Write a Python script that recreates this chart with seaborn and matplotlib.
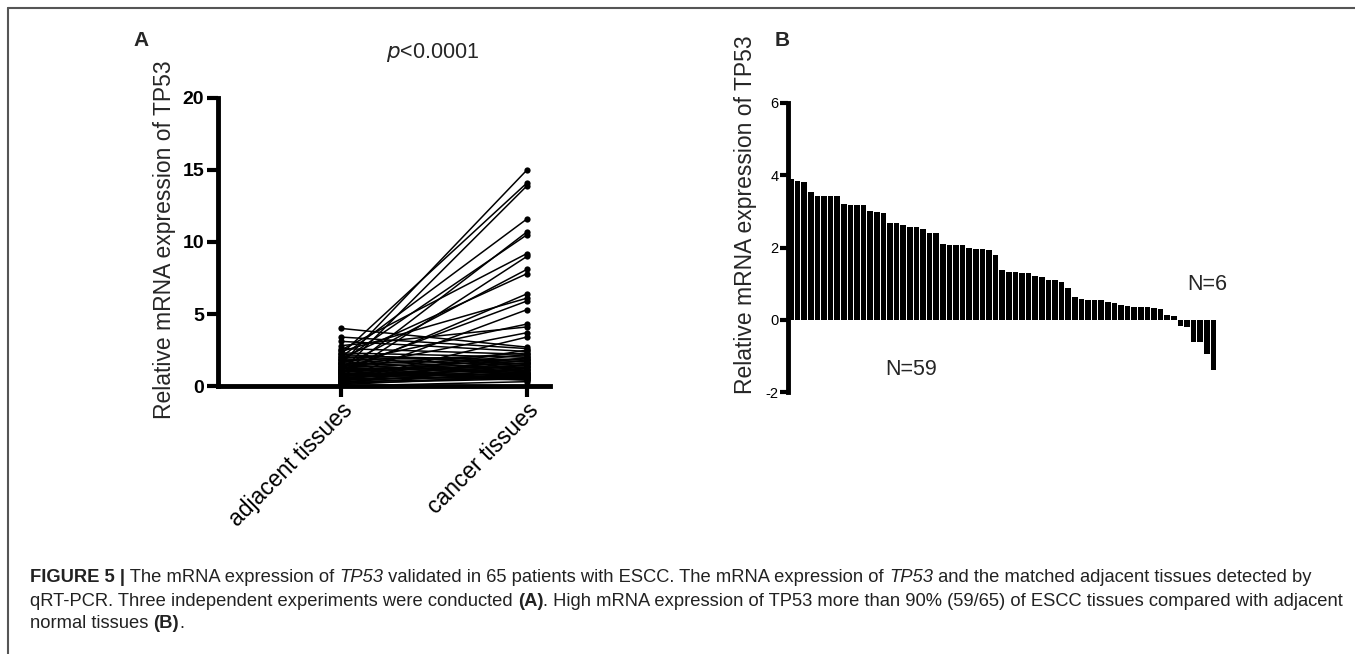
import numpy as np
import pandas as pd
import matplotlib
matplotlib.use("Agg")
import matplotlib.pyplot as plt
from matplotlib.lines import Line2D
import seaborn as sns

# ---------------- data ----------------
tissues = ["adjacent tissues", "cancer tissues"]

adjacent_values = [1.5, 2.2, 1.0, 2.0, 0.8, 1.7, 2.5, 0.6, 1.3, 1.9, 0.9, 2.4, 1.1, 0.5, 1.6, 2.8, 1.2, 0.3,
                   4.0, 3.4, 0.4, 3.1, 1.4, 0.7, 2.6, 1.8, 0.2, 2.3, 1.5, 0.95, 2.1, 0.45, 1.3, 2.0, 0.65,
                   1.1, 0.35, 2.2, 1.0, 1.9, 0.55, 1.2, 1.8, 0.25, 1.6, 0.8, 1.4, 0.15, 1.7, 0.6, 1.3, 0.75,
                   1.5, 0.4, 1.2, 0.1, 1.1, 0.5, 0.9, 0.3, 1.0, 0.2, 0.7, 0.85, 0.0]
cancer_values = [15.0, 14.1, 13.9, 11.6, 10.7, 10.5, 9.2, 9.0, 8.1, 7.8, 6.4, 6.1, 5.9, 5.3, 4.3, 4.1, 3.7, 3.4,
                 2.7, 2.6, 2.5, 2.4, 2.3, 2.2, 2.2, 2.1, 2.0, 2.0, 1.9, 1.9, 1.8, 1.8, 1.7, 1.7, 1.6,
                 1.6, 1.5, 1.5, 1.4, 1.4, 1.3, 1.3, 1.2, 1.2, 1.1, 1.1, 1.0, 1.0, 0.9, 0.9, 0.85, 0.8,
                 0.8, 0.75, 0.7, 0.7, 0.65, 0.6, 0.6, 0.55, 0.5, 0.5, 0.45, 0.4, 0.3]

bar_values = [3.90, 3.83, 3.80, 3.55, 3.42, 3.42, 3.42, 3.42, 3.20, 3.19, 3.17, 3.17, 3.02, 2.98, 2.96,
              2.69, 2.68, 2.61, 2.57, 2.57, 2.52, 2.40, 2.40, 2.09, 2.06, 2.06, 2.06, 1.98, 1.95, 1.95,
              1.93, 1.79, 1.38, 1.33, 1.31, 1.30, 1.29, 1.22, 1.17, 1.09, 1.09, 1.04, 0.88, 0.63, 0.58,
              0.55, 0.55, 0.54, 0.50, 0.45, 0.41, 0.38, 0.36, 0.35, 0.34, 0.33, 0.30, 0.14, 0.09,
              -0.18, -0.21, -0.62, -0.62, -0.95, -1.40]

yticks_a = [0, 5, 10, 15, 20]
yticks_b = [-2, 0, 2, 4, 6]

# ---------------- style ----------------
sns.set_style("ticks")
plt.rcParams["font.family"] = ["Liberation Sans", "DejaVu Sans"]

W, H = 1355, 654
fig = plt.figure(figsize=(W / 100, H / 100), dpi=100)

def fx(px):
    return px / W

def fy(py):
    return 1 - py / H

# ---------------- panel A ----------------
n = len(adjacent_values)
long = pd.DataFrame({
    "patient": list(range(n)) * 2,
    "pos": [0] * n + [1] * n,
    "tissue": [tissues[0]] * n + [tissues[1]] * n,
    "value": adjacent_values + cancer_values,
})

axA = fig.add_axes([fx(218), fy(386), fx(550) - fx(218), fy(98) - fy(386)])
sns.lineplot(data=long, x="pos", y="value", units="patient", estimator=None, sort=False,
             color="black", linewidth=1.1, marker="o", markersize=4.5,
             markeredgewidth=0, ax=axA, legend=False)
axA.set_xlim(-0.661, 1.124)
axA.set_ylim(0, 20)
axA.set_xticks([0, 1])
axA.set_xticklabels(tissues, rotation=45, ha="right", rotation_mode="anchor", fontsize=16.5)
axA.set_yticks(yticks_a)
axA.set_yticklabels([str(t) for t in yticks_a], fontsize=14, fontweight="bold")
axA.set_xlabel("")
axA.set_ylabel("Relative mRNA expression of TP53", fontsize=16.5)
axA.yaxis.set_label_coords(-0.128, 0.507)
for s in ["top", "right"]:
    axA.spines[s].set_visible(False)
for s in ["left", "bottom"]:
    axA.spines[s].set_linewidth(3.5)
    axA.spines[s].set_color("black")
axA.tick_params(axis="both", length=8, width=3, color="black", labelcolor="black")
axA.tick_params(axis="y", pad=2)
axA.tick_params(axis="x", pad=1)
axA.set_facecolor("none")

fig.text(fx(432), fy(52), r"$p$<0.0001", ha="center", va="center", fontsize=15.5)
fig.text(fx(141), fy(40), "A", ha="center", va="center", fontsize=15, fontweight="bold")

# ---------------- panel B ----------------
bars = pd.DataFrame({"rank": list(range(len(bar_values))), "value": bar_values})
axB = fig.add_axes([fx(788), fy(392), fx(1217) - fx(788), fy(103) - fy(392)])
sns.barplot(data=bars, x="rank", y="value", color="black", saturation=1, width=0.84,
            linewidth=0, ax=axB)
axB.set_xlim(-0.45, len(bar_values) - 0.45)
axB.set_ylim(-2, 6)
axB.set_yticks(yticks_b)
axB.set_yticklabels([str(t) for t in yticks_b], fontsize=10.5)
axB.set_xticks([])
axB.set_xlabel("")
axB.set_ylabel("Relative mRNA expression of TP53", fontsize=16.5)
axB.yaxis.set_label_coords(-0.072, 0.615)
for s in ["top", "right", "bottom"]:
    axB.spines[s].set_visible(False)
axB.spines["left"].set_linewidth(3.5)
axB.spines["left"].set_color("black")
axB.tick_params(axis="y", length=6, width=3, color="black", labelcolor="black", pad=1)
axB.set_facecolor("none")
axB.text(18.2, -1.38, "N=59", ha="center", va="center", fontsize=15.5)
axB.text(63.0, 0.97, "N=6", ha="center", va="center", fontsize=15.5)

fig.text(fx(782), fy(40), "B", ha="center", va="center", fontsize=15, fontweight="bold")

# ---------------- frame ----------------
fig.add_artist(Line2D([fx(8), 1], [fy(8), fy(8)], color="#555555", linewidth=1.5))
fig.add_artist(Line2D([fx(8), fx(8)], [fy(8), 0], color="#555555", linewidth=1.5))

# ---------------- caption ----------------
cap_size = 13.2
cap_lines = [
    [("FIGURE 5 |", "bold", "normal"), (" The mRNA expression of ", "normal", "normal"), ("TP53", "normal", "italic"),
     (" validated in 65 patients with ESCC. The mRNA expression of ", "normal", "normal"), ("TP53", "normal", "italic"),
     (" and the matched adjacent tissues detected by", "normal", "normal")],
    [("qRT-PCR. Three independent experiments were conducted ", "normal", "normal"), ("(A)", "bold", "normal"),
     (". High mRNA expression of TP53 more than 90% (59/65) of ESCC tissues compared with adjacent", "normal", "normal")],
    [("normal tissues ", "normal", "normal"), ("(B)", "bold", "normal"), (".", "normal", "normal")],
]
cap_y = [577, 601, 624]
fig.canvas.draw()
renderer = fig.canvas.get_renderer()
for line, ypx in zip(cap_lines, cap_y):
    xpx = 30
    for txt, wt, st in line:
        t = fig.text(fx(xpx), fy(ypx), txt, ha="left", va="center", fontsize=cap_size,
                     fontweight=wt, fontstyle=st, color="#222222")
        bb = t.get_window_extent(renderer=renderer)
        xpx += bb.width

fig.savefig("out.png", dpi=100)
